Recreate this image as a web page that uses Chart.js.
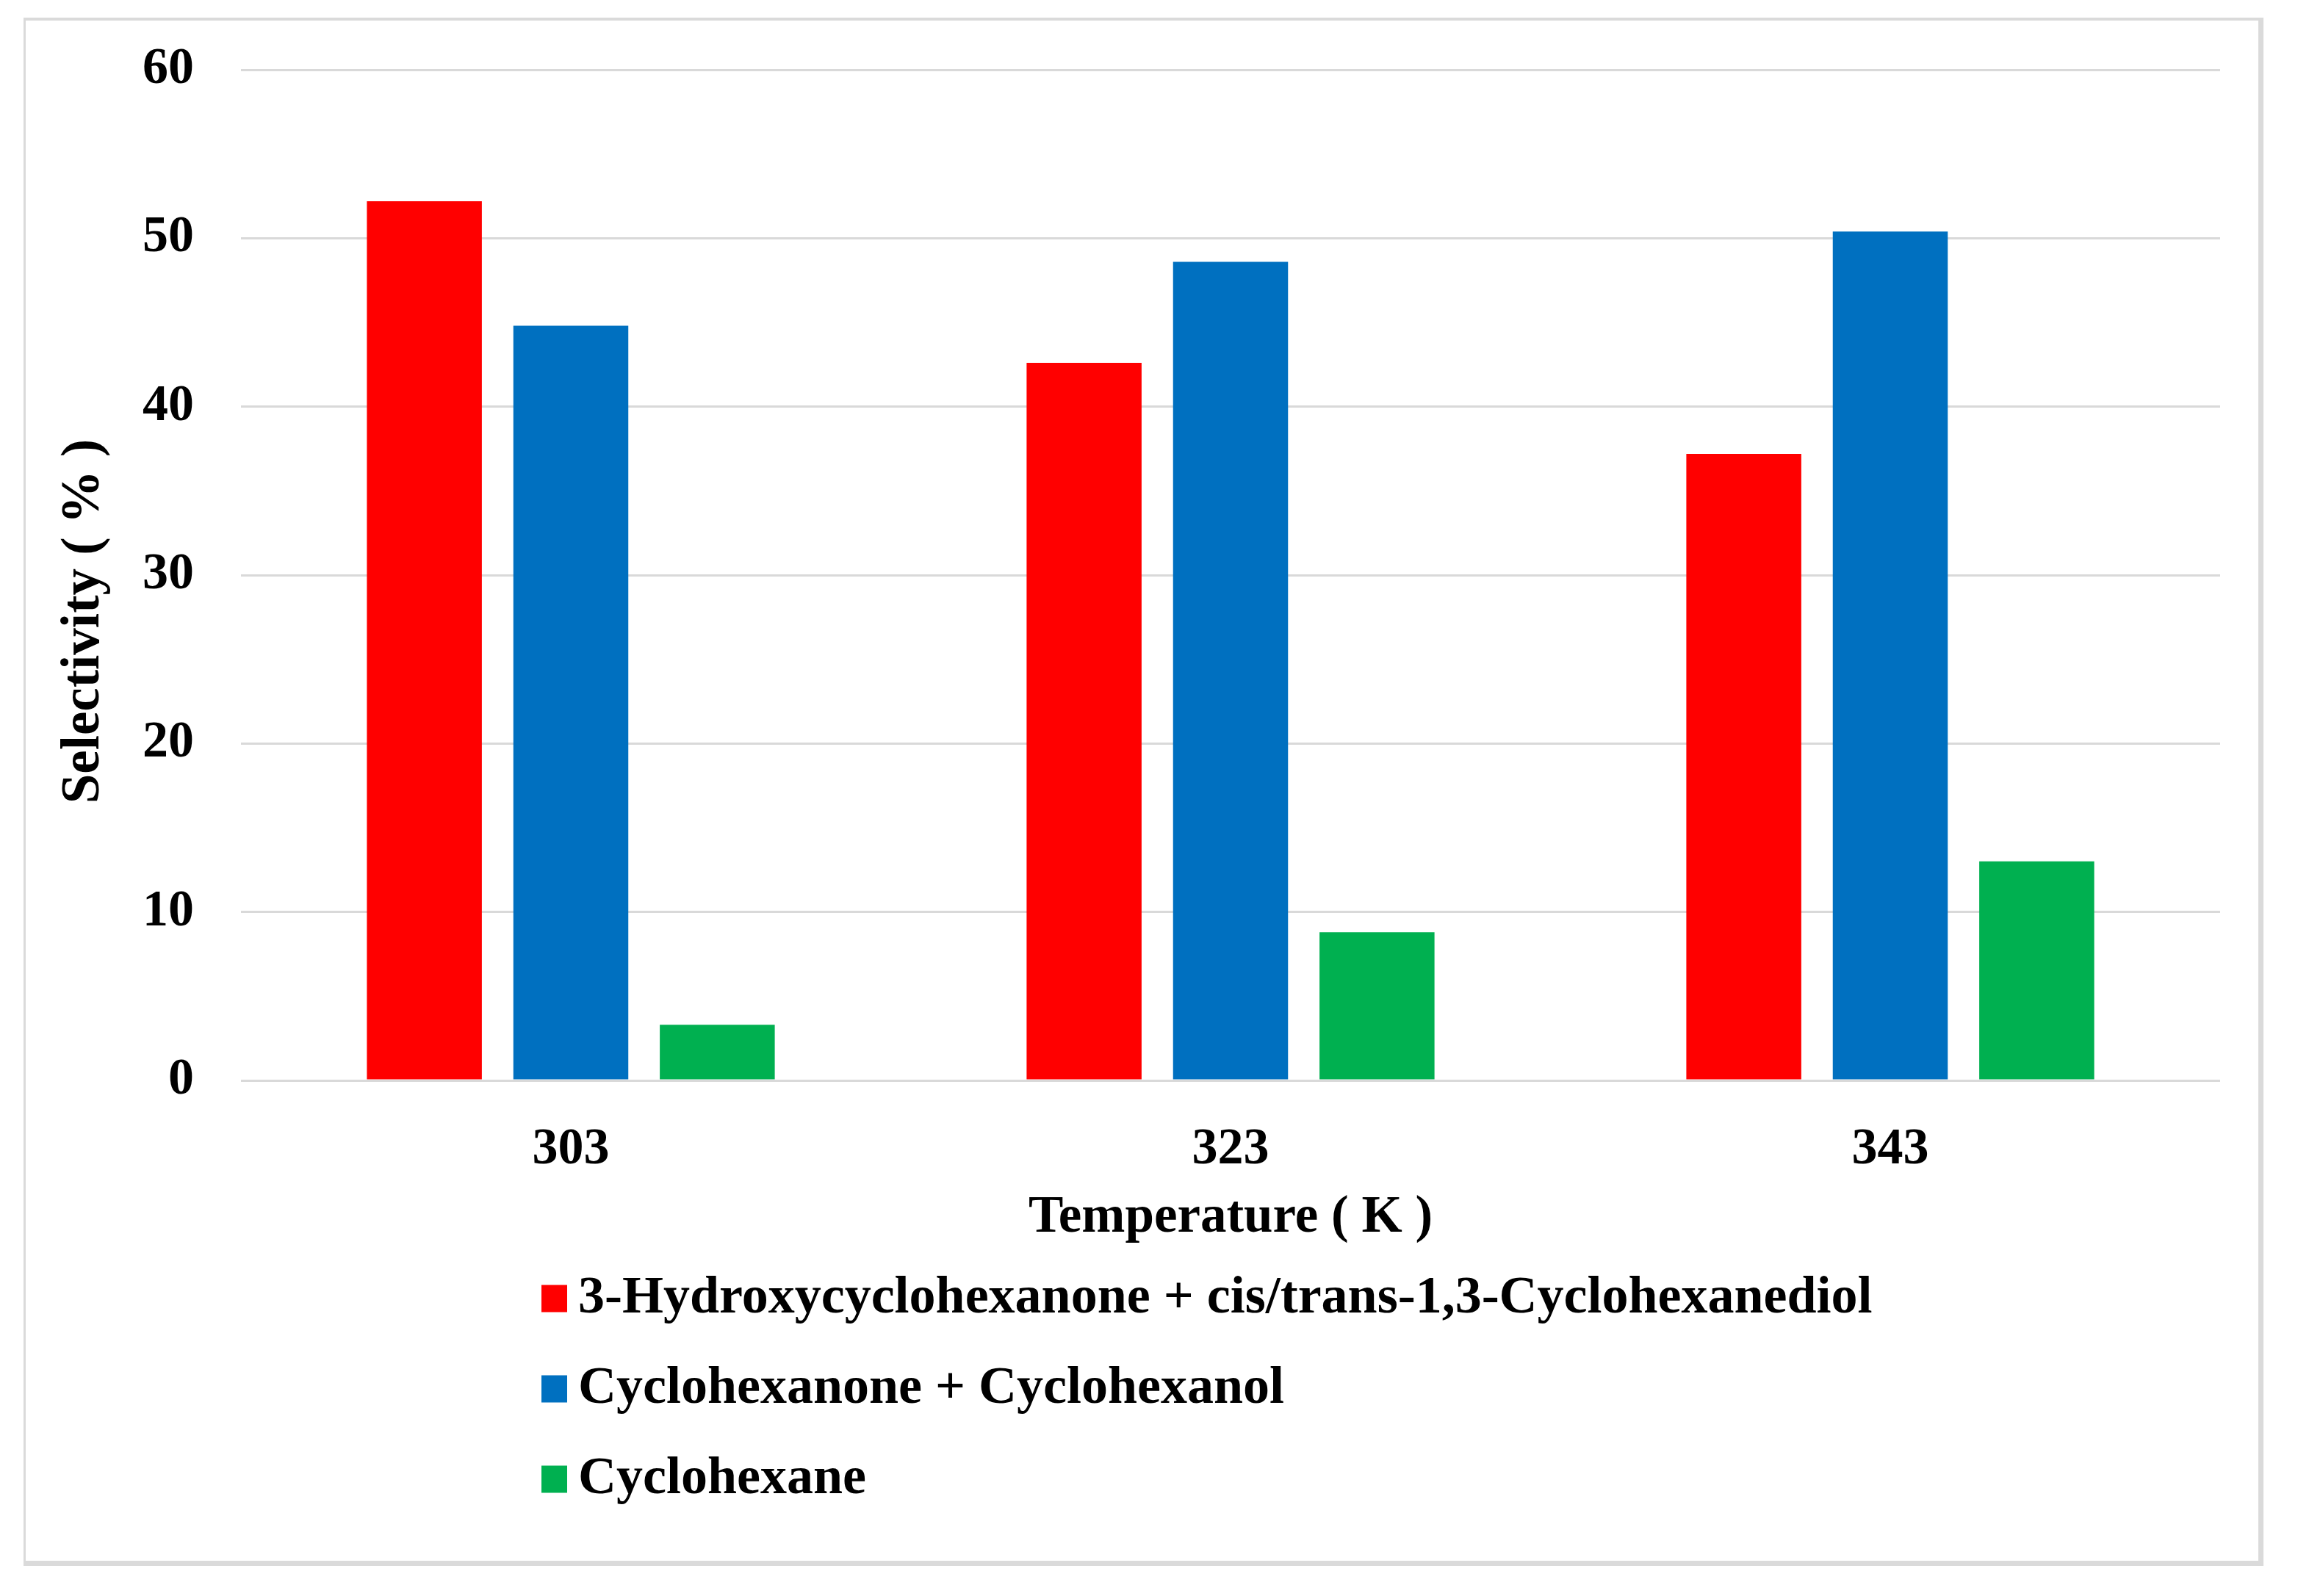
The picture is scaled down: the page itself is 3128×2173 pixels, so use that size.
<!DOCTYPE html>
<html><head><meta charset="utf-8">
<script src="https://cdn.jsdelivr.net/npm/chart.js@4.4.0/dist/chart.umd.min.js"></script>
<style>
html,body{margin:0;padding:0;background:#fff;}
#frame{position:absolute;left:32px;top:24px;width:3049px;height:2108px;box-sizing:border-box;border-style:solid;border-color:#dadada;border-width:4px 7px 7px 3px;}
#c{position:absolute;left:0;top:0;width:3128px;height:2173px;}
</style></head><body>
<div id="frame"></div>
<canvas id="c" width="3128" height="2173"></canvas>
<script>
// ---- data ----
const categories = ['303', '323', '343'];
const seriesNames = [
  '3-Hydroxycyclohexanone + cis/trans-1,3-Cyclohexanediol',
  'Cyclohexanone + Cyclohexanol',
  'Cyclohexane'
];
const hydroxyValues = [52.2, 42.6, 37.2];
const cyclohexanoneValues = [44.8, 48.6, 50.4];
const cyclohexaneValues = [3.3, 8.8, 13.0];
const yTickValues = [0, 10, 20, 30, 40, 50, 60];
const xTitleText = 'Temperature ( K )';
const yTitleText = 'Selectivity ( % )';
const seriesColors = ['#FF0000', '#0070C0', '#00B050'];

const FONT_FAMILY = '"Liberation Serif", "Times New Roman", serif';
const xTickFont = {family: FONT_FAMILY, size: 70, weight: 'bold'};
const yTickFont = {family: FONT_FAMILY, size: 70, weight: 'bold', lineHeight: 0.5};
const xTitleFont = {family: FONT_FAMILY, size: 71, weight: 'bold'};

const customText = {
  id: 'customText',
  afterDraw(chart) {
    const ctx = chart.ctx;
    // y-axis title
    ctx.save();
    ctx.font = 'bold 73px ' + FONT_FAMILY;
    ctx.fillStyle = '#000';
    ctx.translate(115, 846);
    ctx.rotate(-Math.PI / 2);
    ctx.textAlign = 'center';
    ctx.textBaseline = 'middle';
    ctx.fillText(yTitleText, 0, 0);
    ctx.restore();
    // legend
    ctx.save();
    ctx.font = 'bold 72px ' + FONT_FAMILY;
    chart.data.datasets.forEach((ds, i) => {
      const cy = 1768 + i * 123;
      ctx.fillStyle = ds.backgroundColor;
      ctx.fillRect(737, cy - 18.5, 35, 37);
      ctx.fillStyle = '#000';
      ctx.textAlign = 'left';
      ctx.textBaseline = 'middle';
      ctx.fillText(ds.label, 787, cy);
    });
    ctx.restore();
  }
};

new Chart(document.getElementById('c'), {
  type: 'bar',
  data: {
    labels: categories,
    datasets: [
      {label: seriesNames[0], data: hydroxyValues, backgroundColor: seriesColors[0]},
      {label: seriesNames[1], data: cyclohexanoneValues, backgroundColor: seriesColors[1]},
      {label: seriesNames[2], data: cyclohexaneValues, backgroundColor: seriesColors[2]}
    ]
  },
  options: {
    responsive: false,
    animation: false,
    devicePixelRatio: 1,
    layout: {padding: {left: 0, right: 106, top: 95, bottom: 422}},
    datasets: {bar: {categoryPercentage: 0.666, barPercentage: 0.785}},
    plugins: {legend: {display: false}, tooltip: {enabled: false}},
    scales: {
      x: {
        grid: {display: false},
        border: {display: false},
        ticks: {font: xTickFont, color: '#000', padding: 45, maxRotation: 0},
        title: {display: true, text: xTitleText, font: xTitleFont, color: '#000', padding: {top: 0, bottom: 50}},
        afterFit: (s) => { s.height = 280; }
      },
      y: {
        min: 0,
        max: 60,
        grid: {color: '#d9d9d9', lineWidth: 3, drawTicks: false},
        border: {display: false},
        ticks: {stepSize: 10, font: yTickFont, color: '#000', padding: 64},
        afterBuildTicks: (s) => { s.ticks = yTickValues.map(v => ({value: v})); },
        afterFit: (s) => { s.width = 328; }
      }
    }
  },
  plugins: [customText]
});
</script>
</body></html>
